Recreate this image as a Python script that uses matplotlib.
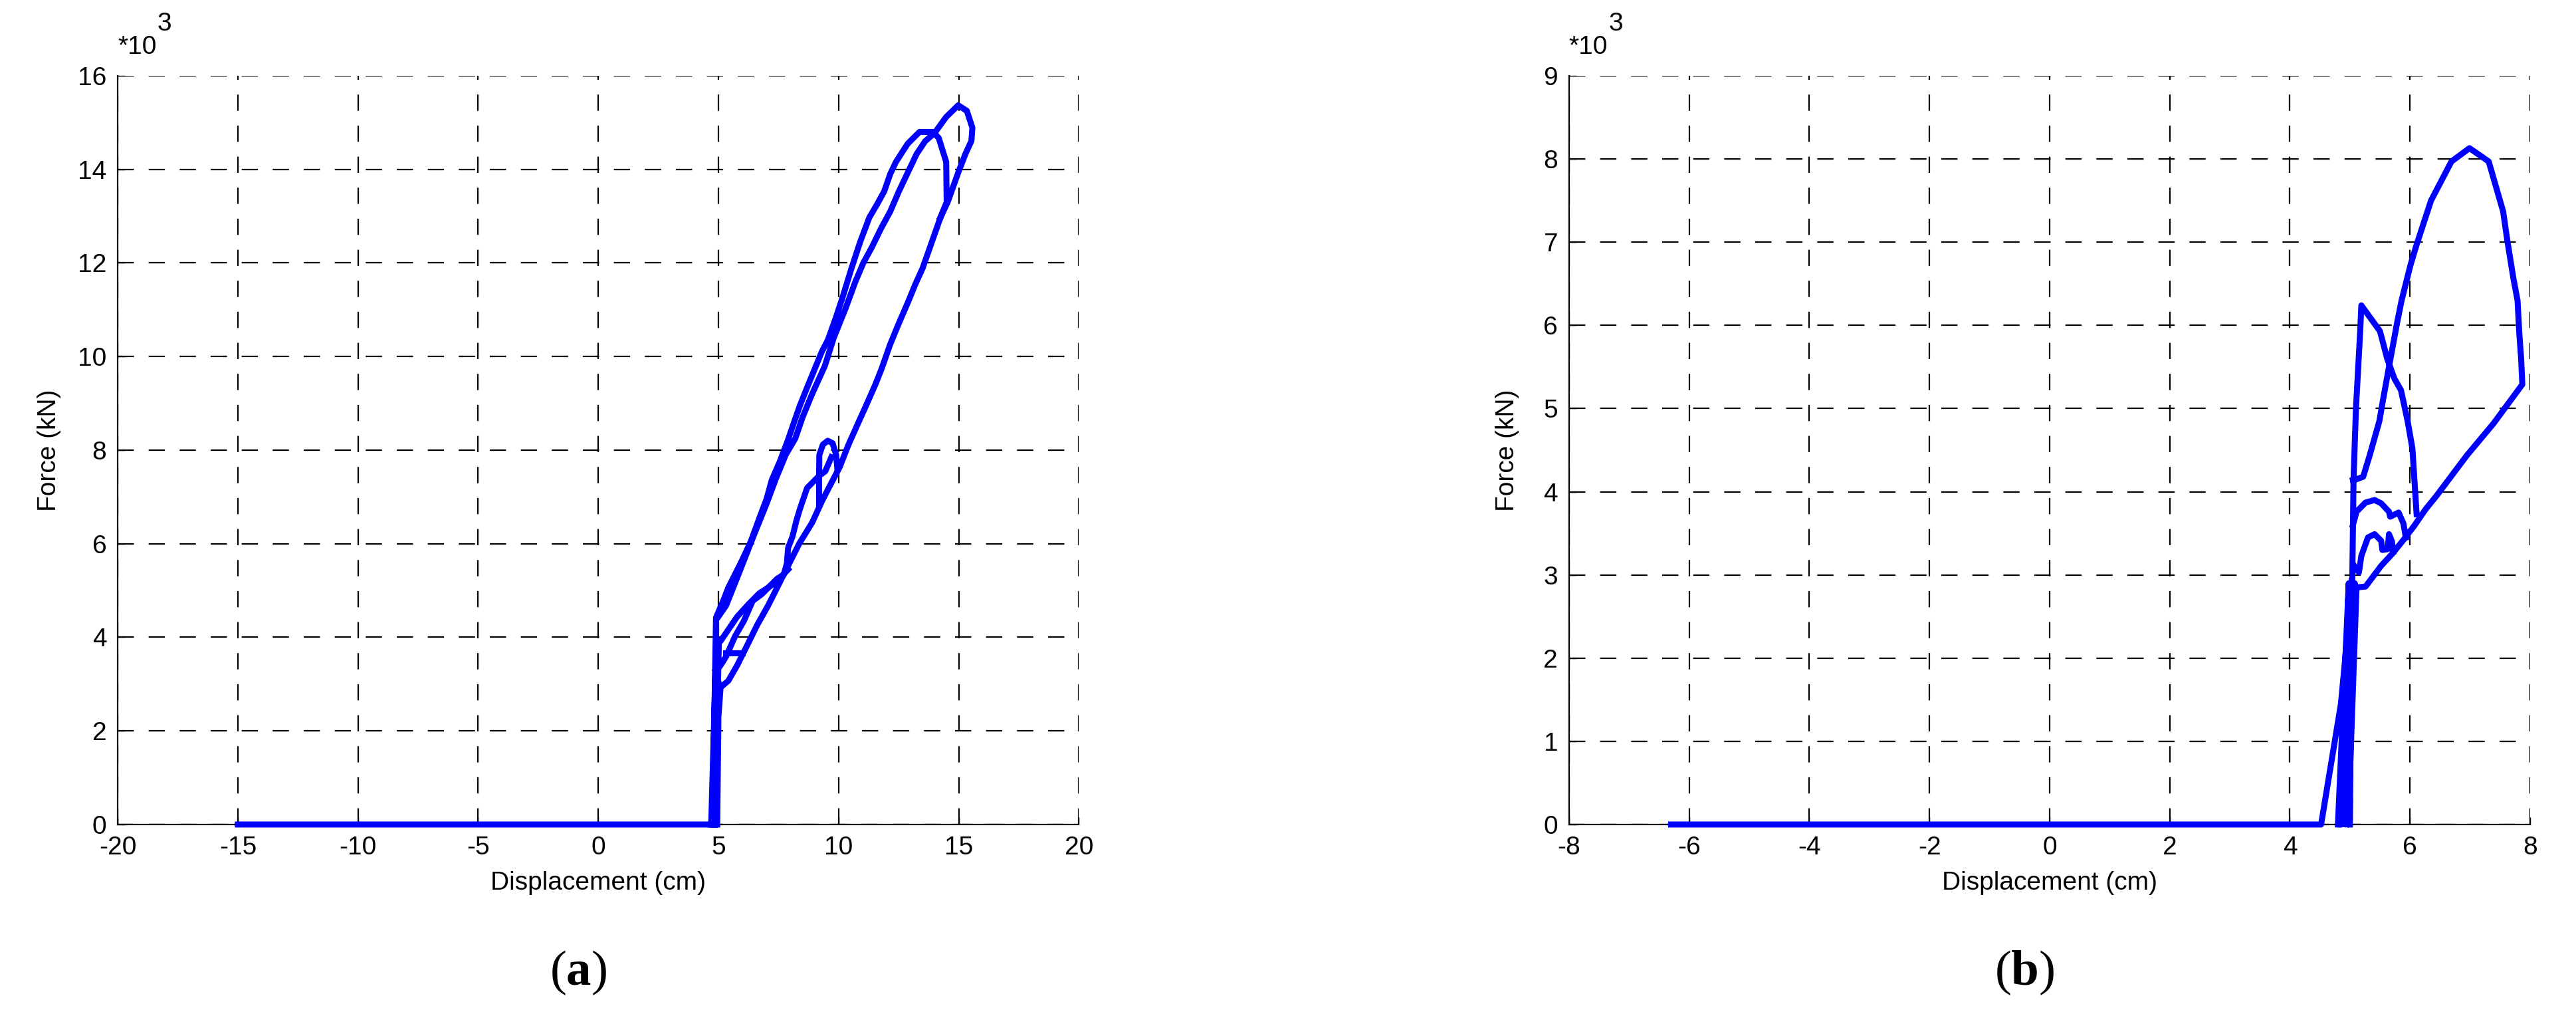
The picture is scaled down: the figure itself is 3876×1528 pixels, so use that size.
import numpy as np
import matplotlib
matplotlib.use("Agg")
import matplotlib.pyplot as plt

plt.rcParams['font.family'] = ['Liberation Sans', 'DejaVu Sans']
plt.rcParams['axes.unicode_minus'] = False
plt.rcParams['mathtext.fontset'] = 'custom'
plt.rcParams['mathtext.rm'] = 'Liberation Serif'
plt.rcParams['mathtext.bf'] = 'Liberation Serif:bold'

nan = np.nan

# panel (a): displacement (cm) / force (x10^3 kN), branches split by nan
disp_a = [-15, 4.75, 4.82, 4.9,
          5.23, 5.41, 5.97, 6.35, 6.72, 7.0, 7.22, 7.55, 7.89, 8.15, 8.39, 8.7, 9.06, 9.3, 9.56, 9.9,
          10.17, 10.54, 10.9, 11.28, 11.6, 11.9, 12.15, 12.39, 12.88, 13.37, 13.93, 14.17, 14.48, 14.5,
          14.24, 13.85, 13.5, 13.2, 12.88, 12.5, 12.14, 11.8, 11.53, 11.1, 10.79, 10.4, 10.05, 9.65,
          9.31, 8.9, 8.36, 7.9, 7.53, 7.07, 6.61, 6.15, 5.78, 5.41, 5.09, 5.0, 4.95, nan,
          4.85, 5.02, 5.09, 5.41, 5.78, 6.24, 6.7, 7.07, 7.44, 7.72, 7.85, 7.9, 8.08, 8.25, 8.39, 8.69,
          9.19, 9.2, 9.35, 9.55, 9.75, 9.9, 9.95, nan,
          9.7, 9.45, 9.19, 9.19, nan,
          6.01, 5.32, nan,
          4.9, 5.09, 5.32, 5.69, 6.06, 6.43, 6.8, 7.07, 7.44, 7.9, nan,
          4.7, 4.88, 5.05, nan,
          4.97, 5.32, 5.87, 6.52, 7.0, 7.4, 7.8, 8.2, 8.5, 8.9, 9.43, 9.8, 10.3, 10.7, 11.03, 11.4,
          11.77, 12.15, 12.51, 12.9, 13.25, 13.6, 14.0, 14.48, 14.98, 15.34, 15.57, 15.53, 15.28,
          14.98, 14.54, 14.24]
force_a = [0, 0, 2.0, 4.42,
           4.82, 5.06, 5.63, 6.05, 6.57, 6.95, 7.36, 7.75, 8.21, 8.6, 8.95, 9.35, 9.8, 10.1, 10.36, 10.85,
           11.27, 11.89, 12.45, 12.97, 13.25, 13.53, 13.9, 14.16, 14.55, 14.8, 14.8, 14.67, 14.16, 13.3,
           12.97, 12.4, 11.89, 11.55, 11.15, 10.7, 10.25, 9.75, 9.4, 8.9, 8.55, 8.1, 7.64, 7.25,
           6.91, 6.45, 6.0, 5.53, 5.15, 4.68, 4.26, 3.78, 3.4, 3.07, 2.93, 2.3, 0, nan,
           0, 3.9, 3.92, 4.16, 4.44, 4.7, 4.94, 5.06, 5.25, 5.34, 5.58, 5.91, 6.15, 6.5, 6.74, 7.19,
           7.45, 7.9, 8.12, 8.2, 8.15, 7.9, 7.6, nan,
           7.85, 7.55, 7.45, 6.85, nan,
           3.66, 3.66, nan,
           3.3, 3.4, 3.59, 4.02, 4.35, 4.78, 4.92, 5.06, 5.2, 5.45, nan,
           0, 3.3, 2.95, nan,
           4.42, 4.68, 5.39, 6.24, 6.85, 7.4, 7.9, 8.25, 8.7, 9.2, 9.8, 10.4, 11.04, 11.6, 12.0, 12.35,
           12.74, 13.1, 13.53, 13.95, 14.33, 14.6, 14.78, 15.12, 15.37, 15.25, 14.89, 14.61, 14.33,
           13.93, 13.3, 12.97]

# panel (b)
disp_b = [-6.3, 4.52, 4.85, 5.0, nan,
          4.8, 4.98, 4.86, 5.03, 4.92, 5.08, 4.97, 5.11, nan,
          5.0, 5.02, 5.04, 5.06, 5.1, 5.17, 5.19, 5.5, 5.62, 5.74, 5.85, 5.96, 6.04, 6.07, 6.11, nan,
          5.0, 5.05, 5.11, 5.26, 5.52, 5.7, 5.89, 6.07, 6.26, 6.44, 6.95, 7.39, 7.87, 7.85, 7.82, 7.79,
          7.72, 7.62, 7.55, 7.43, 7.31, 6.99, 6.69, 6.35, 6.11, 6.01, 5.86, 5.79, 5.67, 5.55, 5.49,
          5.33, 5.22, 5.11, 5.05, nan,
          5.05, 5.11, 5.26, 5.41, 5.52, 5.65, 5.67, 5.81, 5.89, 5.93, nan,
          5.08, 5.15, 5.19, 5.3, 5.41, 5.52, 5.54, 5.63, 5.65, 5.7, 5.72]
force_b = [0, 0, 1.45, 2.6, nan,
           0, 2.9, 0, 2.95, 0, 2.9, 0, 2.85, nan,
           0, 2.0, 3.0, 4.15, 5.0, 5.92, 6.24, 5.93, 5.6, 5.36, 5.22, 4.85, 4.52, 4.18, 3.73, nan,
           2.0, 2.6, 2.85, 2.86, 3.11, 3.25, 3.42, 3.59, 3.79, 3.95, 4.44, 4.82, 5.29, 5.6, 5.9, 6.3,
           6.57, 7.02, 7.37, 7.67, 7.97, 8.13, 7.97, 7.5, 6.97, 6.73, 6.3, 6.05, 5.58, 5.1, 4.85,
           4.44, 4.18, 4.15, 4.14, nan,
           3.6, 3.76, 3.87, 3.9, 3.86, 3.76, 3.7, 3.75, 3.62, 3.45, nan,
           3.1, 3.03, 3.23, 3.45, 3.49, 3.41, 3.3, 3.31, 3.49, 3.4, 3.28]

xticks_a = [-20, -15, -10, -5, 0, 5, 10, 15, 20]
yticks_a = [0, 2, 4, 6, 8, 10, 12, 14, 16]
xticks_b = [-8, -6, -4, -2, 0, 2, 4, 6, 8]
yticks_b = [0, 1, 2, 3, 4, 5, 6, 7, 8, 9]

fig = plt.figure(figsize=(38.76, 15.28), dpi=100)
ax_a = fig.add_axes([0.0457, 0.1885, 0.3731, 0.7369])
ax_b = fig.add_axes([0.6091, 0.1885, 0.3731, 0.7369])

panels = [(ax_a, disp_a, force_a, xticks_a, yticks_a, -0.071, "a", 0.2245),
          (ax_b, disp_b, force_b, xticks_b, yticks_b, -0.064, "b", 0.786)]

for ax, xs, ys, xt, yt, ylab_x, tag, tag_x in panels:
    ax.plot(xs, ys, color=(0, 0, 1), lw=6.5, solid_joinstyle='round', zorder=3, clip_on=False)
    ax.set_xlim(xt[0], xt[-1])
    ax.set_ylim(yt[0], yt[-1])
    ax.set_xticks(xt)
    ax.set_yticks(yt)
    ax.grid(True, color='k', lw=1.6, ls=(0, (11, 10)))
    ax.set_axisbelow(True)
    for s in ['top', 'right']:
        ax.spines[s].set_visible(False)
    for s in ['left', 'bottom']:
        ax.spines[s].set_linewidth(1.6)
    ax.tick_params(direction='in', length=8, width=1, labelsize=28, pad=12)
    ax.set_xlabel("Displacement (cm)", fontsize=28)
    ax.xaxis.set_label_coords(0.5, -0.062)
    ax.set_ylabel("Force (kN)", fontsize=28, va='center')
    ax.yaxis.set_label_coords(ylab_x, 0.5)
    t1 = ax.text(0.0, 1.022, "*10", transform=ax.transAxes, fontsize=28, ha='left', va='bottom')
    ax.annotate("3", xy=(1, 0), xycoords=t1, xytext=(1, 25), textcoords='offset points',
                fontsize=28, ha='left', va='bottom')
    fig.text(tag_x, 0.0425, r"($\mathbf{%s}$)" % tag, fontsize=54, ha='center', va='center',
             family='Liberation Serif')

fig.savefig("out.png", dpi=100, facecolor='white')
